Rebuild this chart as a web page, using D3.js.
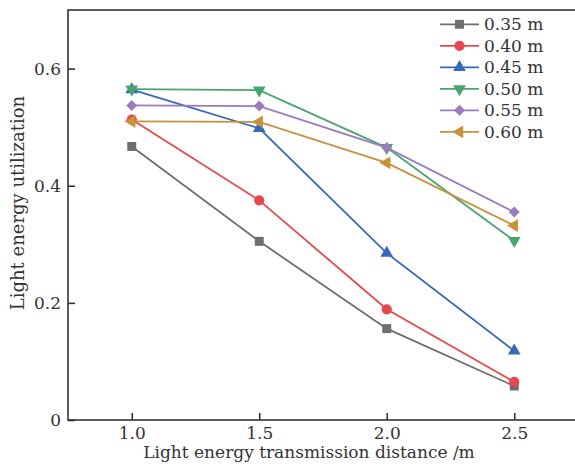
<!DOCTYPE html>
<html>
<head>
<meta charset="utf-8">
<script src="https://cdn.jsdelivr.net/npm/d3@7"></script>
<style>
  body { margin: 0; background: #fff; }
  svg { display: block; font-family: 'DejaVu Serif', serif; }
</style>
</head>
<body>
<div id="chart"></div>
<script>
// values
const distances = [1.0, 1.5, 2.0, 2.5];
const seriesNames = ['0.35 m', '0.40 m', '0.45 m', '0.50 m', '0.55 m', '0.60 m'];
const util035 = [0.467, 0.305, 0.156, 0.058];
const util040 = [0.513, 0.375, 0.189, 0.065];
const util045 = [0.564, 0.498, 0.285, 0.118];
const util050 = [0.565, 0.563, 0.465, 0.306];
const util055 = [0.537, 0.536, 0.465, 0.355];
const util060 = [0.510, 0.509, 0.439, 0.332];
const yTicks = [0, 0.2, 0.4, 0.6];
const xTicks = [1.0, 1.5, 2.0, 2.5];

const colors = ['#6e6e6e', '#e8474c', '#3669ba', '#47a570', '#9a7bbd', '#c8913a'];
const values = [util035, util040, util045, util050, util055, util060];

const width = 575;
const height = 467;
const margin = { top: 10, right: -3, bottom: 47, left: 68 };

const svg = d3.select('#chart')
  .append('svg')
  .attr('width', width)
  .attr('height', height);

const x = d3.scaleLinear()
  .domain([0.75, 2.75])
  .range([margin.left, width - margin.right]);
const y = d3.scaleLinear()
  .domain([0, 0.7])
  .range([height - margin.bottom, margin.top]);

// marker shapes
function markerPath(i) {
  const sq = d3.symbol().type(d3.symbolSquare).size(80);
  const circ = d3.symbol().type(d3.symbolCircle).size(82);
  const tri = d3.symbol().type(d3.symbolTriangle).size(70);
  const dia = d3.symbol().type(d3.symbolDiamond2).size(78);
  return [
    { d: sq(), rot: 0 },
    { d: circ(), rot: 0 },
    { d: tri(), rot: 0 },
    { d: tri(), rot: 180 },
    { d: dia(), rot: 0 },
    { d: tri(), rot: -90 },
  ][i];
}

const line = d3.line()
  .x((d, i) => x(distances[i]))
  .y(d => y(d));

values.forEach((vals, i) => {
  const g = svg.append('g').attr('class', 'series');
  g.append('path')
    .datum(vals)
    .attr('d', line)
    .attr('fill', 'none')
    .attr('stroke', colors[i])
    .attr('stroke-width', 1.8);
  const m = markerPath(i);
  g.selectAll('path.mk')
    .data(vals)
    .enter()
    .append('path')
    .attr('class', 'mk')
    .attr('d', m.d)
    .attr('transform', (d, j) => `translate(${x(distances[j])},${y(d)}) rotate(${m.rot})`)
    .attr('fill', colors[i]);
});

// frame
const axisColor = '#333';
const x0 = margin.left;
const x1 = width - margin.right;
const y0 = height - margin.bottom;
const y1 = margin.top;
svg.append('rect')
  .attr('x', x0)
  .attr('y', y1)
  .attr('width', x1 - x0)
  .attr('height', y0 - y1)
  .attr('fill', 'none')
  .attr('stroke', axisColor)
  .attr('stroke-width', 1.6);

// axes, ticks pointing inward
const xAxis = svg.append('g')
  .attr('transform', `translate(0,${y0})`)
  .call(d3.axisBottom(x).tickValues(xTicks).tickFormat(d3.format('.1f'))
    .tickSizeInner(-7).tickSizeOuter(0).tickPadding(7));
const yAxis = svg.append('g')
  .attr('transform', `translate(${x0},0)`)
  .call(d3.axisLeft(y).tickValues(yTicks).tickFormat(d => (d === 0 ? '0' : d3.format('.1f')(d)))
    .tickSizeInner(-7).tickSizeOuter(0).tickPadding(7));
[xAxis, yAxis].forEach((ax) => {
  ax.select('.domain').remove();
  ax.selectAll('.tick line').attr('stroke', axisColor).attr('stroke-width', 1.6);
  ax.selectAll('.tick text')
    .attr('fill', '#333')
    .style('font-family', "'DejaVu Serif', serif")
    .style('font-size', '17px');
});

// axis titles
svg.append('text')
  .attr('x', 309)
  .attr('y', 458)
  .attr('text-anchor', 'middle')
  .attr('fill', '#333')
  .style('font-size', '17px')
  .text('Light energy transmission distance /m');
svg.append('text')
  .attr('transform', 'translate(24,203) rotate(-90)')
  .attr('text-anchor', 'middle')
  .attr('fill', '#333')
  .style('font-size', '18px')
  .text('Light energy utilization');

// legend
const legend = svg.append('g').attr('class', 'legend');
seriesNames.forEach((name, i) => {
  const ly = 24.3 + i * 21.5;
  const row = legend.append('g').attr('transform', `translate(0,${ly})`);
  row.append('line')
    .attr('x1', 440)
    .attr('x2', 479)
    .attr('stroke', colors[i])
    .attr('stroke-width', 1.8);
  const m = markerPath(i);
  row.append('path')
    .attr('d', m.d)
    .attr('transform', `translate(459.5,0) rotate(${m.rot})`)
    .attr('fill', colors[i]);
  row.append('text')
    .attr('x', 484)
    .attr('dy', '0.36em')
    .attr('fill', '#333')
    .style('font-size', '17px')
    .text(name);
});
</script>
</body>
</html>
